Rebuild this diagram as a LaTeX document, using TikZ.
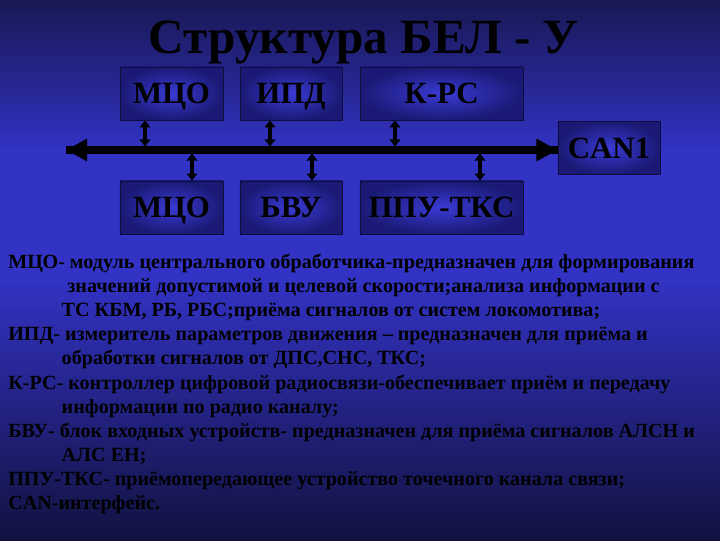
\documentclass[tikz,border=0pt]{standalone}
\usepackage{fontspec}
\setmainfont{Liberation Serif}
\usetikzlibrary{arrows.meta}

\definecolor{bgtop}{RGB}{24,24,84}
\definecolor{bgmid}{RGB}{50,50,196}
\definecolor{bgbot}{RGB}{18,18,64}
\definecolor{blkin}{RGB}{58,58,212}
\definecolor{blkout}{RGB}{26,26,118}
\definecolor{blkline}{RGB}{14,14,60}

\tikzset{
  blk/.style={draw=blkline, line width=0.6pt, inner color=blkin, outer color=blkout,
    minimum height=1.325cm, inner sep=0pt, text depth=0pt, font=\bfseries\fontsize{22}{22}\selectfont},
  bus/.style={line width=5pt, -{Triangle[length=15pt,width=15pt]}},
  tap/.style={line width=2.6pt, <->, >={Triangle[length=5pt,width=7.5pt]}},
  desc/.style={anchor=base west, inner sep=0pt, align=left,
    font=\bfseries\fontsize{14.3}{17}\selectfont}
}

\begin{document}
\begin{tikzpicture}[x=0.025cm, y=-0.025cm]
        % background
        \fill[top color=bgtop, bottom color=bgmid] (0,0) rectangle (720,150);
        \fill[bgmid] (0,150) rectangle (720,280);
        \fill[top color=bgmid, bottom color=bgbot] (0,280) rectangle (720,540);
        \useasboundingbox (0,0) rectangle (720,540);

        \node[anchor=base, font=\bfseries\fontsize{35}{35}\selectfont] (title) at (364,53) {Структура БЕЛ - У};

        % blocks
        \node[blk, minimum width=2.575cm] (mcoT) at (171.5,93.5) {МЦО};
        \node[blk, minimum width=2.55cm] (ipd) at (291,93.5) {ИПД};
        \node[blk, minimum width=4.075cm] (krs) at (441.5,93.5) {К-РС};
        \node[blk, minimum width=2.55cm] (can) at (609,148) {CAN1};
        \node[blk, minimum width=2.575cm] (mcoB) at (171.5,207.5) {МЦО};
        \node[blk, minimum width=2.55cm] (bvu) at (291,207.5) {БВУ};
        \node[blk, minimum width=4.075cm] (ppu) at (441.5,207.5) {ППУ-ТКС};

        % CAN bus
        \coordinate (busW) at (66,150);
        \draw[bus] (busW -| can.west) -- (busW);
        \draw[bus] (busW) -- (busW -| can.west);

        \coordinate (tA) at (145,146.5);
        \coordinate (tB) at (270,146.5);
        \coordinate (tC) at (395,146.5);
        \coordinate (tD) at (192,153.5);
        \coordinate (tE) at (312,153.5);
        \coordinate (tF) at (480,153.5);
        \draw[tap] (tA |- mcoT.south) -- (tA);
        \draw[tap] (tB |- ipd.south) -- (tB);
        \draw[tap] (tC |- krs.south) -- (tC);
        \draw[tap] (tD |- mcoB.north) -- (tD);
        \draw[tap] (tE |- bvu.north) -- (tE);
        \draw[tap] (tF |- ppu.north) -- (tF);

        % legend (anchored at the baseline of the last line)
        \node[desc] (dMCO) at (8,316) {МЦО- модуль центрального обработчика-предназначен для формирования\\
          \hspace*{42pt}значений допустимой и целевой скорости;анализа информации с\\
          \hspace*{38pt}ТС КБМ, РБ, РБС;приёма сигналов от систем локомотива;};
        \node[desc] (dIPD) at (8,364) {ИПД- измеритель параметров движения – предназначен для приёма и\\
          \hspace*{38pt}обработки сигналов от ДПС,СНС, ТКС;};
        \node[desc] (dKRS) at (8,413) {К-РС- контроллер цифровой радиосвязи-обеспечивает приём и передачу\\
          \hspace*{38pt}информации по радио каналу;};
        \node[desc] (dBVU) at (8,461) {БВУ- блок входных устройств- предназначен для приёма сигналов АЛСН и\\
          \hspace*{38pt}АЛС ЕН;};
        \node[desc] (dPPU) at (8,485) {ППУ-ТКС- приёмопередающее устройство точечного канала связи;};
        \node[desc] (dCAN) at (8,509) {CAN-интерфейс.};
\end{tikzpicture}
\end{document}
